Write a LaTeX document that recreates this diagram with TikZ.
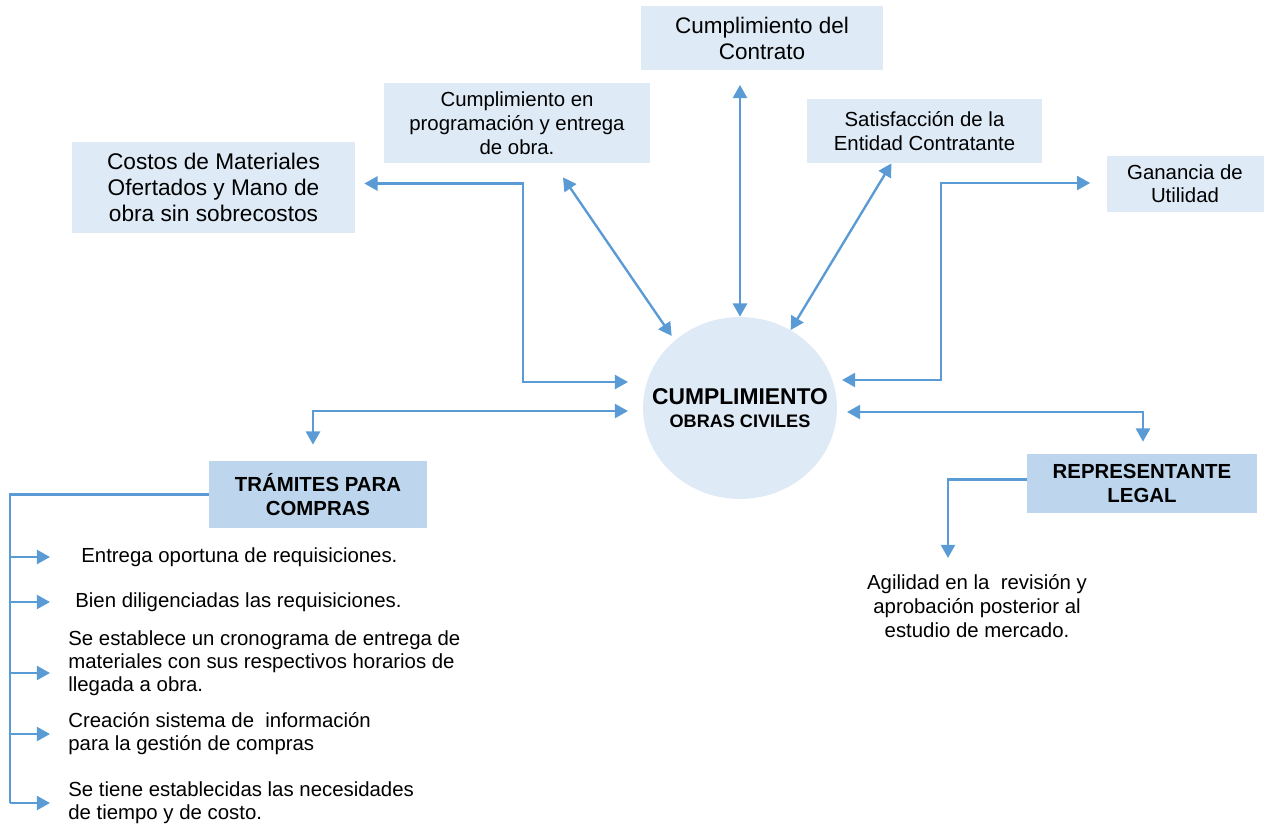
\documentclass[tikz,border=0pt]{standalone}
\usepackage{fontspec}
\setmainfont{Liberation Sans}
\usetikzlibrary{arrows.meta,shapes.geometric}
\definecolor{cajaback}{RGB}{222,234,246}
\definecolor{cajaoscura}{RGB}{189,214,238}
\definecolor{azullinea}{RGB}{91,155,213}
\tikzset{
  caja/.style={fill=cajaback,align=center,inner sep=0pt},
  cajabold/.style={fill=cajaoscura,align=center,inner sep=0pt,font=\fontsize{11.6}{13.7}\selectfont\bfseries},
  enlace/.style={draw=azullinea,line width=1.35pt,>={Triangle[length=7.5pt,width=8pt]}},
  item/.style={align=left,anchor=west,inner sep=0pt,font=\fontsize{11.6}{13.1}\selectfont},
}

\begin{document}
\begin{tikzpicture}[x=0.02cm,y=-0.02cm]
\useasboundingbox (0,0) rectangle (1264,825);

\node [ellipse,fill=cajaback,minimum width=3.88cm,minimum height=3.64cm,inner sep=0pt,
  label={[align=center,inner sep=0pt]center:{\fontsize{13}{15}\selectfont\bfseries CUMPLIMIENTO}\\[1pt]{\fontsize{10.3}{12}\selectfont\bfseries OBRAS CIVILES}}] (cumpl) at (740,408) {};

\node [caja,minimum width=4.84cm,minimum height=1.3cm,font=\fontsize{12.8}{14.8}\selectfont] (contrato) at (762,38) {Cumplimiento del\\Contrato};
\node [caja,minimum width=5.32cm,minimum height=1.6cm,font=\fontsize{11.6}{13.7}\selectfont] (programa) at (517,123) {Cumplimiento en\\programación y entrega\\de obra.};
\node [caja,minimum width=4.7cm,minimum height=1.28cm,font=\fontsize{11.6}{13.7}\selectfont] (satisf) at (924.5,131) {Satisfacción de la\\Entidad Contratante};
\node [caja,minimum width=5.66cm,minimum height=1.82cm,font=\fontsize{12.9}{15}\selectfont] (costos) at (213.5,187.5) {Costos de Materiales\\Ofertados y Mano de\\obra sin sobrecostos};
\node [caja,minimum width=3.14cm,minimum height=1.12cm,font=\fontsize{11.6}{13.1}\selectfont] (ganancia) at (1185,184) {Ganancia de\\Utilidad};

\node [cajabold,minimum width=4.36cm,minimum height=1.34cm] (tramites) at (318,494.5) {TRÁMITES PARA\\COMPRAS};
\node [cajabold,minimum width=4.6cm,minimum height=1.18cm] (repres) at (1142,483.5) {REPRESENTANTE\\LEGAL};

\node [align=center,inner sep=0pt,font=\fontsize{11.6}{13.7}\selectfont] (agilidad) at (977,606) {Agilidad en la\ \ revisión y\\aprobación posterior al\\estudio de mercado.};

\node [item] (req1) at (81,557) {Entrega oportuna de requisiciones.};
\node [item] (req2) at (75,602) {Bien diligenciadas las requisiciones.};
\node [item] (req3) at (68,663) {Se establece un cronograma de entrega de\\materiales con sus respectivos horarios de\\llegada a obra.};
\node [item] (req4) at (68,734) {Creación sistema de\ \ información\\para la gestión de compras};
\node [item] (req5) at (68,803) {Se tiene establecidas las necesidades\\de tiempo y de costo.};

% flechas hacia el centro
\draw [enlace,<->,shorten <=8pt] (contrato.south -| cumpl.north) -- (cumpl.north);
\draw [enlace,<->,shorten >=3pt] ([shift={(46,14)}]programa.south) -- (cumpl.134);
\draw [enlace,<->] ([shift={(-33,0)}]satisf.south) -- (cumpl.57);
\draw [enlace,<->] ([shift={(9,-4)}]costos.east) -| (523,382) -- ([shift={(-112,-26)}]cumpl.center);
\draw [enlace,<->] ([shift={(-16,-1)}]ganancia.west) -| (941,380) -- ([shift={(102,-28)}]cumpl.center);
\draw [enlace,<->] ([shift={(-112,3)}]cumpl.center) -| ([shift={(-5,-16)}]tramites.north);
\draw [enlace,<->] ([shift={(107,4)}]cumpl.center) -| ([shift={(1,-12)}]repres.north);

% tramites
\coordinate (barra) at (10,494.5);
\draw [enlace] (tramites.west) -| (barra |- req5.west);
\draw [enlace,->] (barra |- req1.west) -- ([shift={(-31,0)}]req1.west);
\draw [enlace,->] (barra |- req2.west) -- ([shift={(-25,0)}]req2.west);
\draw [enlace,->] ([shift={(0,10)}]barra |- req3.west) -- ([shift={(-18,10)}]req3.west);
\draw [enlace,->] (barra |- req4.west) -- ([shift={(-18,0)}]req4.west);
\draw [enlace,->] (barra |- req5.west) -- ([shift={(-18,0)}]req5.west);

% representante
\draw [enlace,->] ([shift={(0,-4)}]repres.west) -| ([shift={(-29,-16)}]agilidad.north);
\end{tikzpicture}
\end{document}
